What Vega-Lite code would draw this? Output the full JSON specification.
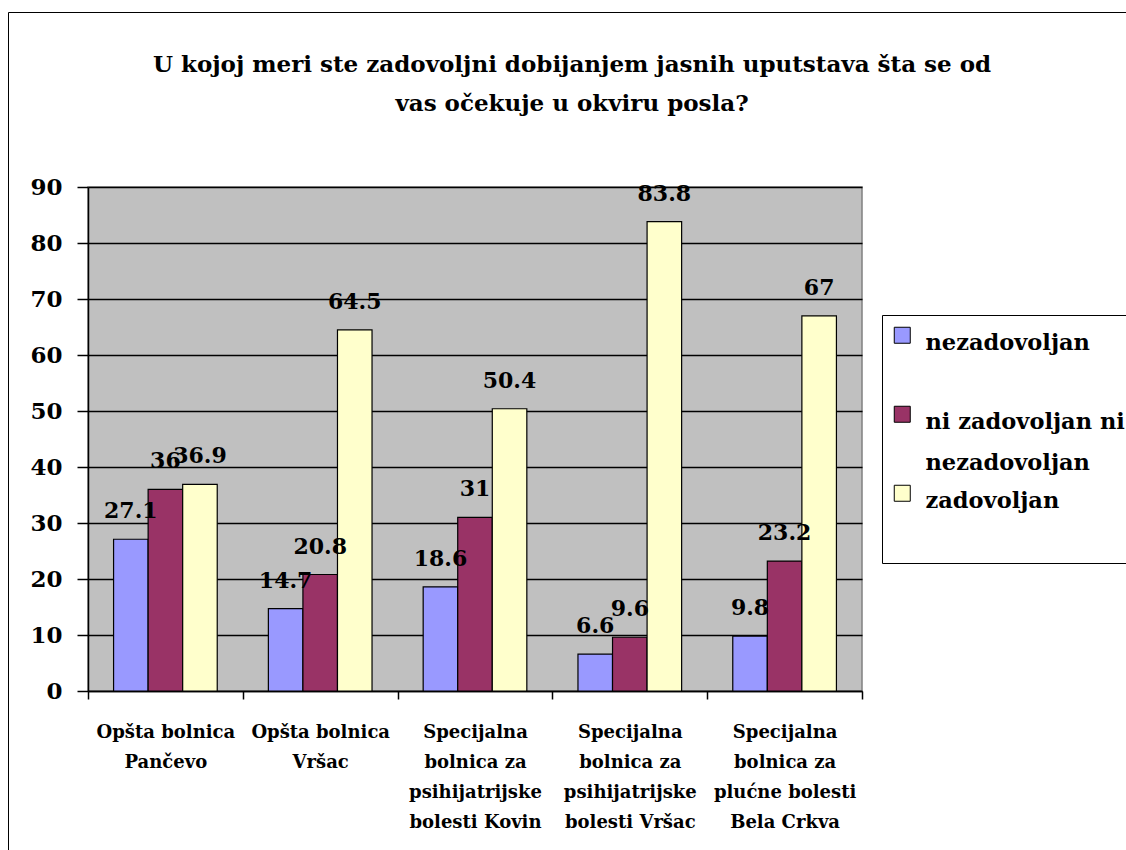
{
  "$schema": "https://vega.github.io/schema/vega-lite/v6.json",
  "width": 774,
  "height": 504,
  "autosize": {"type": "none"},
  "padding": {"left": 88, "top": 187, "right": 264, "bottom": 159},
  "background": "white",
  "title": {
    "text": ["U kojoj meri ste zadovoljni dobijanjem jasnih uputstava šta se od", "vas očekuje u okviru posla?"],
    "font": "DejaVu Serif",
    "fontSize": 23,
    "fontWeight": "bold",
    "color": "black",
    "anchor": "middle",
    "frame": "group",
    "dx": 97,
    "lineHeight": 39,
    "offset": -104
  },
  "data": {
    "values": [
      {"bolnica": "Opšta bolnica|Pančevo", "ocena": "nezadovoljan", "procenat": 27.1},
      {"bolnica": "Opšta bolnica|Pančevo", "ocena": "ni zadovoljan ni nezadovoljan", "procenat": 36},
      {"bolnica": "Opšta bolnica|Pančevo", "ocena": "zadovoljan", "procenat": 36.9},
      {"bolnica": "Opšta bolnica|Vršac", "ocena": "nezadovoljan", "procenat": 14.7},
      {"bolnica": "Opšta bolnica|Vršac", "ocena": "ni zadovoljan ni nezadovoljan", "procenat": 20.8},
      {"bolnica": "Opšta bolnica|Vršac", "ocena": "zadovoljan", "procenat": 64.5},
      {"bolnica": "Specijalna|bolnica za|psihijatrijske|bolesti Kovin", "ocena": "nezadovoljan", "procenat": 18.6},
      {"bolnica": "Specijalna|bolnica za|psihijatrijske|bolesti Kovin", "ocena": "ni zadovoljan ni nezadovoljan", "procenat": 31},
      {"bolnica": "Specijalna|bolnica za|psihijatrijske|bolesti Kovin", "ocena": "zadovoljan", "procenat": 50.4},
      {"bolnica": "Specijalna|bolnica za|psihijatrijske|bolesti Vršac", "ocena": "nezadovoljan", "procenat": 6.6},
      {"bolnica": "Specijalna|bolnica za|psihijatrijske|bolesti Vršac", "ocena": "ni zadovoljan ni nezadovoljan", "procenat": 9.6},
      {"bolnica": "Specijalna|bolnica za|psihijatrijske|bolesti Vršac", "ocena": "zadovoljan", "procenat": 83.8},
      {"bolnica": "Specijalna|bolnica za|plućne bolesti|Bela Crkva", "ocena": "nezadovoljan", "procenat": 9.8},
      {"bolnica": "Specijalna|bolnica za|plućne bolesti|Bela Crkva", "ocena": "ni zadovoljan ni nezadovoljan", "procenat": 23.2},
      {"bolnica": "Specijalna|bolnica za|plućne bolesti|Bela Crkva", "ocena": "zadovoljan", "procenat": 67}
    ]
  },
  "encoding": {
    "x": {
      "field": "bolnica",
      "type": "nominal",
      "sort": null,
      "scale": {"paddingInner": 0, "paddingOuter": 0},
      "axis": {
        "title": null,
        "labelAngle": 0,
        "labelExpr": "split(datum.label, '|')",
        "labelFont": "DejaVu Serif",
        "labelFontSize": 18,
        "labelFontWeight": "bold",
        "labelColor": "black",
        "labelLineHeight": 30,
        "labelPadding": 24,
        "labelLimit": 0,
        "labelBaseline": "top",
        "tickBand": "extent",
        "tickSize": 8,
        "tickColor": "black",
        "tickWidth": 1.5,
        "domainColor": "black",
        "domainWidth": 1.5,
        "grid": false
      }
    },
    "xOffset": {
      "field": "ocena",
      "type": "nominal",
      "scale": {"domain": ["nezadovoljan", "ni zadovoljan ni nezadovoljan", "zadovoljan"], "paddingInner": 0, "paddingOuter": 0.74}
    },
    "y": {
      "field": "procenat",
      "type": "quantitative",
      "scale": {"domain": [0, 90], "nice": false},
      "axis": {
        "title": null,
        "values": [0, 10, 20, 30, 40, 50, 60, 70, 80, 90],
        "labelFont": "DejaVu Serif",
        "labelFontSize": 23,
        "labelFontWeight": "bold",
        "labelColor": "black",
        "labelPadding": 15,
        "tickSize": 11,
        "tickColor": "black",
        "tickWidth": 1.5,
        "domainColor": "black",
        "domainWidth": 1.5,
        "grid": true,
        "gridColor": "black",
        "gridWidth": 1.4
      }
    }
  },
  "layer": [
    {
      "mark": {"type": "bar", "stroke": "black", "strokeWidth": 1.2},
      "encoding": {
        "color": {
          "field": "ocena",
          "type": "nominal",
          "scale": {"domain": ["nezadovoljan", "ni zadovoljan ni nezadovoljan", "zadovoljan"], "range": ["#9999FF", "#993366", "#FFFFCC"]},
          "legend": {
            "title": null,
            "orient": "none",
            "legendX": 794,
            "legendY": 128,
            "padding": 9,
            "strokeColor": "black",
            "fillColor": "white",
            "symbolType": "square",
            "symbolSize": 256,
            "symbolStrokeColor": "black",
            "symbolStrokeWidth": 1,
            "labelFont": "DejaVu Serif",
            "labelFontSize": 22.5,
            "labelFontWeight": "bold",
            "labelColor": "black",
            "labelLimit": 0,
            "labelOffset": 12,
            "labelBaseline": "alphabetic",
            "rowPadding": 7,
            "labelExpr": "datum.label == 'ni zadovoljan ni nezadovoljan' ? ['ni zadovoljan ni', 'nezadovoljan'] : [datum.label, '']",
            "encode": {
              "labels": {"update": {"dy": {"value": 15}, "lineHeight": {"value": 41}}}
            }
          }
        }
      }
    },
    {
      "mark": {"type": "text", "font": "DejaVu Serif", "fontSize": 22, "fontWeight": "bold", "color": "black", "baseline": "alphabetic", "dy": -21},
      "encoding": {
        "text": {"field": "procenat", "type": "quantitative"}
      }
    },
    {
      "mark": {"type": "point", "filled": false, "fillOpacity": 0, "strokeOpacity": 0},
      "encoding": {
        "opacity": {
          "datum": "okvir",
          "type": "nominal",
          "legend": {
            "title": null,
            "orient": "none",
            "legendX": -80,
            "legendY": -175,
            "padding": 570,
            "strokeColor": "black",
            "symbolOpacity": 0,
            "symbolStrokeWidth": 0,
            "symbolSize": 0,
            "labelFontSize": 1,
            "labelOpacity": 0,
            "labelExpr": "''",
            "encode": {"legend": {"update": {"strokeWidth": {"value": 1.5}}}}
          }
        }
      }
    }
  ],
  "config": {
    "font": "DejaVu Serif",
    "view": {"fill": "#C0C0C0", "stroke": "#808080", "strokeWidth": 1.5}
  }
}
